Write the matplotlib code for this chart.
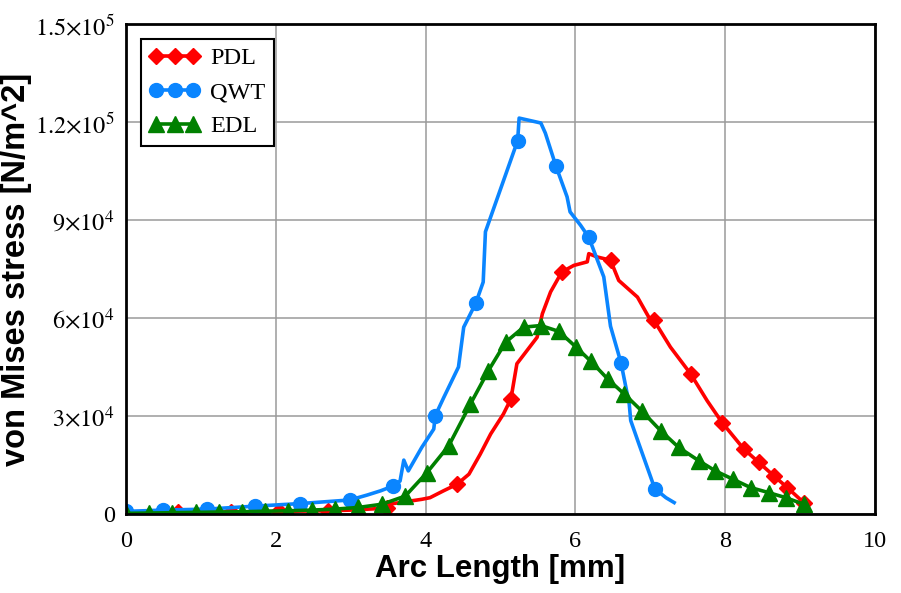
import numpy as np
import matplotlib
matplotlib.use("Agg")
import matplotlib.pyplot as plt

# PDL (red, diamonds)
pdl_x = [0, 0.7, 1.4, 2.05, 2.7, 3.0, 3.49, 3.51, 3.95, 4.06, 4.24, 4.42, 4.58, 4.73,
         4.87, 5.04, 5.14, 5.22, 5.49, 5.56, 5.67, 5.82, 5.98, 6.16, 6.18, 6.29, 6.47,
         6.58, 6.83, 6.98, 7.05, 7.27, 7.54, 7.76, 7.96, 8.25, 8.45, 8.65, 8.83, 9.05]
pdl_y = [0.3, 0.5, 0.6, 0.8, 1.0, 1.2, 1.8, 3.0, 4.5, 5.0, 7.1, 9.1, 12.2, 18.3,
         24.5, 30.6, 35.2, 46.0, 54.1, 61.3, 68.0, 74.1, 76.1, 77.2, 79.7, 78.7, 77.7,
         71.5, 66.4, 60.3, 59.3, 51.1, 42.9, 34.7, 28.0, 19.9, 15.8, 11.7, 8.1, 3.5]
pdl_marks = [0.7, 1.4, 2.05, 2.7, 3.49, 4.42, 5.14, 5.82, 6.47, 7.05, 7.54, 7.96,
             8.25, 8.45, 8.65, 8.83, 9.05]

# QWT (blue, circles)
qwt_x = [0, 0.5, 1.08, 1.72, 2.33, 2.99, 3.22, 3.40, 3.57, 3.66, 3.71, 3.77, 3.95,
         4.11, 4.13, 4.24, 4.44, 4.51, 4.67, 4.77, 4.80, 5.23, 5.25, 5.54, 5.60, 5.74,
         5.89, 5.93, 6.07, 6.18, 6.38, 6.47, 6.61, 6.72, 6.74, 6.85, 7.01, 7.06, 7.21, 7.32]
qwt_y = [0.8, 1.2, 1.5, 2.4, 3.2, 4.3, 5.8, 7.1, 8.6, 10.1, 16.5, 13.2, 20.4,
         26.0, 30.1, 35.5, 45.0, 57.2, 64.5, 71.0, 86.4, 114.3, 121.2, 119.7, 116.6, 106.6,
         97.1, 92.5, 88.4, 84.7, 72.6, 57.5, 46.3, 33.7, 28.6, 21.4, 11.1, 7.8, 5.0, 3.5]
qwt_marks = [0, 0.5, 1.08, 1.72, 2.33, 2.99, 3.57, 4.13, 4.67, 5.23, 5.74, 6.18, 6.61, 7.06]

# EDL (green, triangles on every point)
edl_x = [0, 0.31, 0.62, 0.93, 1.24, 1.55, 1.86, 2.17, 2.48, 2.79, 3.10, 3.42, 3.73,
         4.02, 4.31, 4.60, 4.84, 5.07, 5.31, 5.54, 5.78, 6.01, 6.21, 6.43, 6.65, 6.89,
         7.14, 7.38, 7.65, 7.87, 8.10, 8.34, 8.59, 8.81, 9.05]
edl_y = [0.2, 0.3, 0.4, 0.5, 0.6, 0.7, 0.85, 1.0, 1.2, 1.5, 2.0, 3.0, 5.5,
         12.7, 20.9, 33.7, 43.9, 52.6, 57.2, 57.7, 55.9, 51.1, 46.7, 41.4, 36.8, 31.5,
         25.5, 20.4, 16.3, 13.2, 10.7, 8.1, 6.5, 5.0, 3.0]

x_ticks = [0, 2, 4, 6, 8, 10]
y_ticks = [0, 3e4, 6e4, 9e4, 1.2e5, 1.5e5]
y_labels = ['0', r'$3{\times}10^{4}$', r'$6{\times}10^{4}$', r'$9{\times}10^{4}$',
            r'$1.2{\times}10^{5}$', r'$1.5{\times}10^{5}$']

plt.rcParams['mathtext.fontset'] = 'stix'
plt.rcParams['font.family'] = ['Liberation Serif', 'DejaVu Serif']


def mark_idx(xs, marks):
    xs = np.asarray(xs)
    return [int(np.argmin(np.abs(xs - m))) for m in marks]


fig = plt.figure(figsize=(9.01, 5.93), dpi=100)
ax = fig.add_axes([0.1398, 0.1332, 0.8312, 0.8263])

ax.plot(pdl_x, np.array(pdl_y) * 1e3, color='#ff0000', lw=2.6, marker='D', ms=8.5,
        markevery=mark_idx(pdl_x, pdl_marks), label='PDL')
ax.plot(qwt_x, np.array(qwt_y) * 1e3, color='#0a85ff', lw=2.6, marker='o', ms=10,
        markevery=mark_idx(qwt_x, qwt_marks), label='QWT')
ax.plot(edl_x, np.array(edl_y) * 1e3, color='#008000', lw=2.6, marker='^', ms=11,
        label='EDL')

ax.set_xlim(0, 10)
ax.set_ylim(0, 1.5e5)
ax.set_xticks(x_ticks)
ax.set_xticklabels([str(t) for t in x_ticks])
ax.set_yticks(y_ticks)
ax.set_yticklabels(y_labels)
ax.tick_params(length=0, labelsize=17.5, pad=8)
ax.tick_params(axis='x', pad=12)
ax.grid(True, color='#9a9a9a', lw=1.1)
ax.set_axisbelow(True)
for s in ax.spines.values():
    s.set_linewidth(2)

ax.set_xlabel('Arc Length [mm]', fontsize=22.5, fontweight='bold',
              family='Liberation Sans', labelpad=2)
ax.set_ylabel('von Mises stress [N/m^2]', fontsize=23.5, fontweight='bold',
              family='Liberation Sans', labelpad=2)

leg = ax.legend(loc='upper left', numpoints=3, handlelength=2.1, fontsize=17.5,
                fancybox=False, framealpha=1, edgecolor='black',
                borderaxespad=0.6, borderpad=0.35, handletextpad=0.4,
                labelspacing=0.5)
leg.get_frame().set_linewidth(1.5)

fig.savefig('out.png', dpi=100)
